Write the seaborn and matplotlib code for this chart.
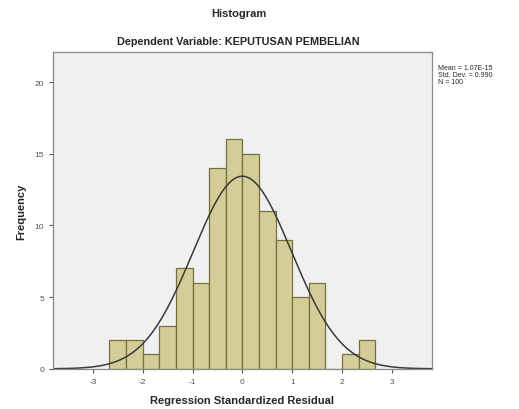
import numpy as np
import pandas as pd
import matplotlib
matplotlib.use("Agg")
import matplotlib.pyplot as plt
import seaborn as sns

# histogram (bin width = 1/3)
bin_edges = [-8/3, -7/3, -2, -5/3, -4/3, -1, -2/3, -1/3, 0,
             1/3, 2/3, 1, 4/3, 5/3, 2, 7/3, 8/3]
counts = [2, 2, 1, 3, 7, 6, 14, 16, 15, 11, 9, 5, 6, 0, 1, 2]

resid_mean = 1.07e-15
resid_std = 0.990
n_obs = 100

x_ticks = [-3, -2, -1, 0, 1, 2, 3]
y_ticks = [0, 5, 10, 15, 20]

sns.set_style("white")
plt.rcParams['font.family'] = ['Liberation Sans', 'DejaVu Sans']
plt.rcParams['axes.unicode_minus'] = False

edges = np.array(bin_edges)
df = pd.DataFrame({"resid": (edges[:-1] + edges[1:]) / 2, "count": counts})

fig = plt.figure(figsize=(5.19, 4.10), dpi=100)
ax = fig.add_axes([0.102, 0.098, 0.730, 0.773])
ax.set_facecolor("#f0f0f0")

sns.histplot(data=df, x="resid", weights="count", bins=bin_edges, ax=ax,
             color="#d4cd98", edgecolor="#76703f", linewidth=0.9, alpha=1)

# fitted normal curve, scaled to counts
bw = bin_edges[1] - bin_edges[0]
xs = np.linspace(-3.8, 3.8, 400)
ys = n_obs * bw * np.exp(-0.5 * ((xs - resid_mean) / resid_std) ** 2) / (resid_std * np.sqrt(2 * np.pi))
sns.lineplot(x=xs, y=ys, ax=ax, color="#3a3a3a", linewidth=1.1)

ax.set_xlim(-3.8, 3.8)
ax.set_ylim(0, 22.1)
ax.set_xticks(x_ticks)
ax.set_yticks(y_ticks)
ax.tick_params(axis="both", labelsize=6, colors="#555555", length=3, width=0.8,
               direction="out", bottom=True, left=True)
for s in ax.spines.values():
    s.set_color("#8a8a8a")
    s.set_linewidth(0.9)

ax.set_xlabel("Regression Standardized Residual", fontsize=8, fontweight="bold", labelpad=7)
ax.set_ylabel("Frequency", fontsize=8, fontweight="bold", labelpad=6)

fig.text(0.460, 0.966, "Histogram", ha="center", va="center", fontsize=8, fontweight="bold")
fig.text(0.460, 0.897, "Dependent Variable: KEPUTUSAN PEMBELIAN", ha="center", va="center",
         fontsize=7.8, fontweight="bold")

stats_text = f"Mean = 1.07E-15\nStd. Dev. = {resid_std:.3f}\nN = {n_obs}"
fig.text(0.843, 0.842, stats_text, ha="left", va="top", fontsize=5, linespacing=1.05)

fig.savefig("out.png", dpi=100)
plt.close(fig)
